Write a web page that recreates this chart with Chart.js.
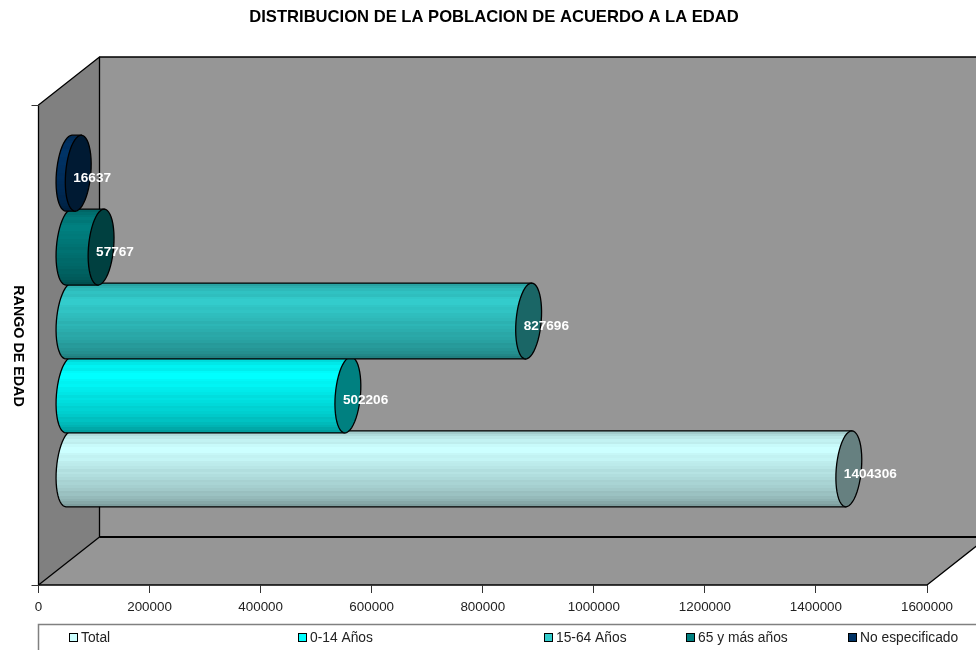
<!DOCTYPE html>
<html>
<head>
<meta charset="utf-8">
<title>Distribucion de la poblacion</title>
<script src="https://cdn.jsdelivr.net/npm/chart.js@4/dist/chart.umd.min.js"></script>
<style>
  html, body { margin: 0; padding: 0; background: #fff; overflow: hidden; }
  canvas { display: block; }
</style>
</head>
<body>
<canvas id="edadChart" width="976" height="650"></canvas>
<script>
// Data
const categories = ['RANGO DE EDAD'];
const seriesNames = ['Total', '0-14 Años', '15-64 Años', '65 y más años', 'No especificado'];
const seriesValues = [1404306, 502206, 827696, 57767, 16637];
const seriesColors = ['#ccffff', '#00ffff', '#33cccc', '#008080', '#003366'];
const capColors = ['#668080', '#008080', '#1a6666', '#004040', '#001a33'];
const legendX = [69, 298, 544, 686, 848];

const FONT = '"Liberation Sans", Arial, sans-serif';
const DEPTH_X = 61, DEPTH_Y = 48;
const CAP_W = 12.6, CAP_SLANT = 3;

// brightness across a cylinder, top to bottom, with the faint banding of the original
const shade = [0.8, 0.86, 0.91, 0.95, 0.93, 0.98, 1, 1, 0.97, 0.95, 0.96, 0.93, 0.92, 0.9, 0.87, 0.89, 0.87,
  0.85, 0.82, 0.83, 0.81, 0.79, 0.75, 0.76, 0.73, 0.7, 0.66, 0.62];

function darken(hex, f) {
  const n = parseInt(hex.slice(1), 16);
  const r = Math.round((n >> 16 & 255) * f);
  const g = Math.round((n >> 8 & 255) * f);
  const b = Math.round((n & 255) * f);
  return `rgb(${r},${g},${b})`;
}

function capPoint(cx, cy, halfH, t) {
  return [cx + CAP_SLANT * Math.sin(t) + CAP_W * Math.cos(t), cy - halfH * Math.sin(t)];
}

function drawCylinder(ctx, x0, x1, cy, h, color, capColor) {
  const halfH = h / 2;
  const grad = ctx.createLinearGradient(0, cy - halfH, 0, cy + halfH);
  shade.forEach((f, i) => {
    const c = darken(color, f);
    grad.addColorStop(i / shade.length, c);
    grad.addColorStop((i + 1) / shade.length, c);
  });

  // body, bulging out on the left
  ctx.beginPath();
  ctx.moveTo(x0 + CAP_SLANT, cy - halfH);
  ctx.lineTo(x1 + CAP_SLANT, cy - halfH);
  ctx.lineTo(x1 - CAP_SLANT, cy + halfH);
  ctx.lineTo(x0 - CAP_SLANT, cy + halfH);
  for (let i = 1; i <= 24; i++) {
    const p = capPoint(x0, cy, halfH, 1.5 * Math.PI - i / 24 * Math.PI);
    ctx.lineTo(p[0], p[1]);
  }
  ctx.closePath();
  ctx.fillStyle = grad;
  ctx.fill();
  ctx.lineWidth = 1.3;
  ctx.strokeStyle = '#000';
  ctx.stroke();

  // end face
  ctx.beginPath();
  for (let i = 0; i < 48; i++) {
    const p = capPoint(x1, cy, halfH, i / 48 * 2 * Math.PI);
    if (i === 0) ctx.moveTo(p[0], p[1]); else ctx.lineTo(p[0], p[1]);
  }
  ctx.closePath();
  ctx.fillStyle = capColor;
  ctx.fill();
  ctx.stroke();
}

const box3d = {
  id: 'box3d',
  beforeDraw(chart) {
    const ctx = chart.ctx;
    const a = chart.chartArea;
    const l = a.left, r = a.right, t = a.top, b = a.bottom;
    ctx.save();
    ctx.lineJoin = 'round';
    // back wall
    ctx.fillStyle = '#969696';
    ctx.fillRect(l + DEPTH_X, t - DEPTH_Y, r - l, b - t);
    // floor
    ctx.beginPath();
    ctx.moveTo(l, b);
    ctx.lineTo(r, b);
    ctx.lineTo(r + DEPTH_X, b - DEPTH_Y);
    ctx.lineTo(l + DEPTH_X, b - DEPTH_Y);
    ctx.closePath();
    ctx.fill();
    // left wall
    ctx.beginPath();
    ctx.moveTo(l, b);
    ctx.lineTo(l, t);
    ctx.lineTo(l + DEPTH_X, t - DEPTH_Y);
    ctx.lineTo(l + DEPTH_X, b - DEPTH_Y);
    ctx.closePath();
    ctx.fillStyle = '#808080';
    ctx.fill();
    // edges
    ctx.strokeStyle = '#000';
    ctx.lineWidth = 1.3;
    ctx.stroke();
    ctx.beginPath();
    ctx.moveTo(l + DEPTH_X, t - DEPTH_Y);
    ctx.lineTo(r + DEPTH_X, t - DEPTH_Y);
    ctx.moveTo(l, b);
    ctx.lineTo(r, b);
    ctx.lineTo(r + DEPTH_X, b - DEPTH_Y);
    ctx.stroke();
    ctx.beginPath();
    ctx.lineWidth = 2;
    ctx.moveTo(l + DEPTH_X, b - DEPTH_Y);
    ctx.lineTo(r + DEPTH_X, b - DEPTH_Y);
    ctx.stroke();
    ctx.restore();
  },
  // cylinders instead of flat bars, first series at the back
  beforeDatasetsDraw(chart) {
    const ctx = chart.ctx;
    const xScale = chart.scales.x;
    const order = chart.data.datasets.map((ds, i) => i).reverse();
    ctx.save();
    order.forEach(i => {
      const bar = chart.getDatasetMeta(i).data[0];
      const s = chart.data.datasets[i].seriesIndex;
      drawCylinder(ctx, xScale.getPixelForValue(0) + DEPTH_X / 2, bar.x + DEPTH_X / 2,
        bar.y - DEPTH_Y / 2, bar.height, seriesColors[s], capColors[s]);
    });
    // value labels
    ctx.font = 'bold 13.6px ' + FONT;
    ctx.fillStyle = '#fff';
    ctx.textAlign = 'left';
    ctx.textBaseline = 'middle';
    order.forEach(i => {
      const bar = chart.getDatasetMeta(i).data[0];
      ctx.fillText(String(chart.data.datasets[i].data[0]), bar.x + DEPTH_X / 2 - 5, bar.y - DEPTH_Y / 2 + 5);
    });
    ctx.restore();
    return false;
  },
  afterDraw(chart) {
    const ctx = chart.ctx;
    ctx.save();
    // axis title reads downwards
    ctx.translate(18, 346);
    ctx.rotate(Math.PI / 2);
    ctx.font = 'bold 14.3px ' + FONT;
    ctx.fillStyle = '#000';
    ctx.textAlign = 'center';
    ctx.textBaseline = 'middle';
    ctx.fillText(categories[0], 0, 0);
    ctx.restore();

    // legend box runs off the page on the right and bottom
    ctx.save();
    ctx.strokeStyle = '#808080';
    ctx.lineWidth = 1.5;
    ctx.beginPath();
    ctx.moveTo(38.5, 652);
    ctx.lineTo(38.5, 624.5);
    ctx.lineTo(978, 624.5);
    ctx.stroke();
    ctx.font = '13.8px ' + FONT;
    ctx.textAlign = 'left';
    ctx.textBaseline = 'middle';
    seriesNames.forEach((name, i) => {
      ctx.fillStyle = seriesColors[i];
      ctx.fillRect(legendX[i] + 0.5, 633.5, 8, 8);
      ctx.strokeStyle = '#000';
      ctx.lineWidth = 1;
      ctx.strokeRect(legendX[i] + 0.5, 633.5, 8, 8);
      ctx.fillStyle = '#222';
      ctx.fillText(name, legendX[i] + 12, 638);
    });
    ctx.restore();
  }
};

const titleShift = {
  id: 'titleShift',
  afterLayout(chart) {
    chart.titleBlock.left = 12;
    chart.titleBlock.right = 976;
  }
};

// Chart.js stacks the first dataset on top, the picture has Total at the bottom
const datasets = seriesNames.map((name, i) => ({
  label: name,
  seriesIndex: i,
  data: [seriesValues[i]],
  backgroundColor: seriesColors[i],
  barPercentage: 1.027,
  categoryPercentage: 0.77
})).reverse();

new Chart(document.getElementById('edadChart'), {
  type: 'bar',
  data: { labels: categories, datasets },
  plugins: [box3d, titleShift],
  options: {
    indexAxis: 'y',
    responsive: false,
    animation: false,
    layout: { padding: { left: 38.5, right: 49, top: 0, bottom: 0 } },
    plugins: {
      legend: { display: false },
      tooltip: { enabled: false },
      title: {
        display: true,
        text: 'DISTRIBUCION DE LA POBLACION DE ACUERDO A LA EDAD',
        color: '#000',
        font: { family: FONT, size: 16.6, weight: 'bold', lineHeight: 1.2 },
        padding: { top: 7, bottom: 78.1 }
      }
    },
    scales: {
      x: {
        min: 0,
        max: 1600000,
        ticks: {
          stepSize: 200000,
          maxRotation: 0,
          padding: 6,
          color: '#222',
          font: { family: FONT, size: 13.4 },
          callback: v => String(v)
        },
        grid: { drawOnChartArea: false, tickLength: 8, tickColor: '#333', tickWidth: 1 },
        border: { display: false },
        afterFit: s => { s.height = 65; }
      },
      y: {
        ticks: { display: false },
        grid: { drawOnChartArea: false, tickLength: 7, tickColor: '#333', tickWidth: 1 },
        border: { display: false },
        afterFit: s => { s.width = 0; }
      }
    }
  }
});
</script>
</body>
</html>
